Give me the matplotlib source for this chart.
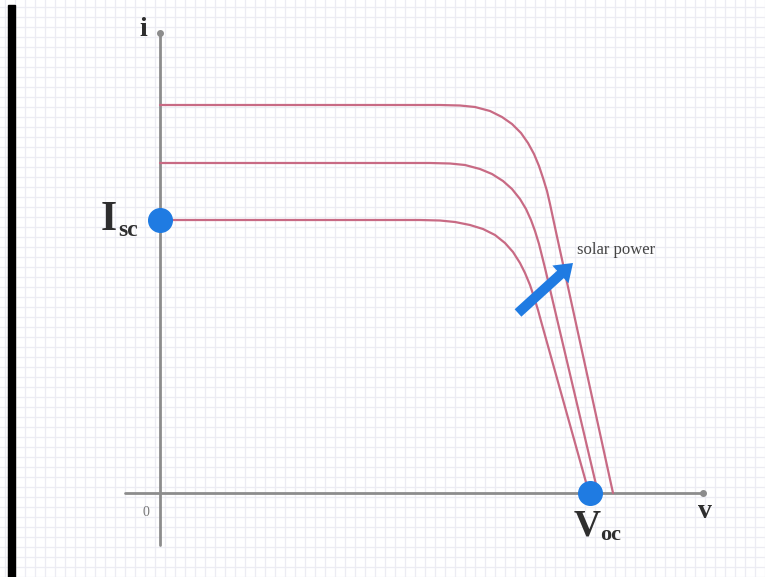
import numpy as np
import matplotlib
matplotlib.use("Agg")
import matplotlib.pyplot as plt
from matplotlib.patches import Rectangle

# I-V characteristic of a solar cell at three irradiance levels
v_low = [0.00, 2.60, 2.80, 2.95, 3.10, 3.23, 3.35, 3.45, 3.53, 3.60, 3.65, 3.70, 3.74, 3.78, 3.81, 4.29]
i_low = [2.73, 2.73, 2.725, 2.71, 2.68, 2.64, 2.58, 2.50, 2.41, 2.30, 2.20, 2.08, 1.96, 1.83, 1.72, 0.00]

v_mid = [0.00, 2.70, 2.90, 3.05, 3.20, 3.32, 3.43, 3.52, 3.60, 3.66, 3.71, 3.75, 3.79, 3.82, 3.85, 4.38]
i_mid = [3.30, 3.30, 3.295, 3.28, 3.24, 3.19, 3.12, 3.04, 2.94, 2.84, 2.73, 2.62, 2.49, 2.37, 2.25, 0.00]

v_high = [0.00, 2.80, 3.00, 3.15, 3.30, 3.42, 3.52, 3.61, 3.68, 3.74, 3.79, 3.83, 3.87, 3.90, 3.93, 3.96, 4.53]
i_high = [3.88, 3.88, 3.875, 3.86, 3.82, 3.76, 3.69, 3.60, 3.50, 3.39, 3.27, 3.15, 3.02, 2.89, 2.75, 2.61, 0.00]

isc_point = (0.0, 2.73)
voc_point = (4.30, 0.00)

arrow_tail = (3.58, 1.80)
arrow_tip = (4.13, 2.30)

curve_color = "#c86a84"
blue = "#1f7be2"
axis_color = "#8c8c8c"
text_color = "#2e2e2e"

fig = plt.figure(figsize=(7.65, 5.77), dpi=100)
ax = fig.add_axes([0, 0, 1, 1])
ax.set_xlim(-1.60, 6.05)
ax.set_ylim(-0.84, 4.93)
for s in ax.spines.values():
    s.set_visible(False)

# graph-paper background
ax.set_xticks(np.arange(-1.55, 6.1, 0.1))
ax.set_yticks(np.arange(-0.84, 4.95, 0.1))
ax.tick_params(length=0, labelbottom=False, labelleft=False)
ax.grid(True, color="#ececf3", lw=0.9)
ax.set_axisbelow(True)

# dark strip down the left edge
ax.add_patch(Rectangle((8 / 765, 0), 7 / 765, 572 / 577, transform=ax.transAxes,
                       color="black", zorder=5))

# axes of the diagram
ax.plot([0, 0], [-0.52, 4.60], color=axis_color, lw=2, solid_capstyle="round", zorder=2)
ax.plot([-0.35, 5.43], [0, 0], color=axis_color, lw=2, solid_capstyle="round", zorder=2)
ax.plot([0], [4.60], "o", color=axis_color, ms=4, zorder=2)
ax.plot([5.43], [0], "o", color=axis_color, ms=4, zorder=2)

# curves
for vv, ii in [(v_low, i_low), (v_mid, i_mid), (v_high, i_high)]:
    ax.plot(vv, ii, color=curve_color, lw=1.6, solid_joinstyle="round",
            solid_capstyle="round", zorder=3)

# key points
ax.plot(*isc_point, "o", color=blue, ms=17, zorder=6)
ax.plot(*voc_point, "o", color=blue, ms=17, zorder=6)

# increasing-irradiance arrow
ax.arrow(arrow_tail[0], arrow_tail[1],
         arrow_tip[0] - arrow_tail[0], arrow_tip[1] - arrow_tail[1],
         width=0.10, head_width=0.24, head_length=0.17,
         length_includes_head=True, color=blue, lw=0, zorder=6)

serif = "Liberation Serif"
ax.text(-0.17, 4.57, "i", fontsize=20, family=serif, weight="bold",
        color=text_color, ha="center", va="baseline")
ax.text(5.45, -0.25, "v", fontsize=20, family=serif, weight="bold",
        color=text_color, ha="center", va="baseline")
ax.text(-0.14, -0.23, "0", fontsize=10, family=serif, color="#777777",
        ha="center", va="baseline")

ax.text(-0.43, 2.63, "I", fontsize=30, family=serif, weight="bold",
        color=text_color, ha="right", va="baseline")
ax.text(-0.42, 2.57, "sc", fontsize=17, family=serif, weight="bold",
        color=text_color, ha="left", va="baseline")

ax.text(4.41, -0.42, "V", fontsize=27, family=serif, weight="bold",
        color=text_color, ha="right", va="baseline")
ax.text(4.40, -0.47, "oc", fontsize=16, family=serif, weight="bold",
        color=text_color, ha="left", va="baseline")

ax.text(4.17, 2.43, "solar power", fontsize=12, family=serif,
        color="#444444", ha="left", va="center")

fig.savefig("out.png", dpi=100, facecolor="white")
